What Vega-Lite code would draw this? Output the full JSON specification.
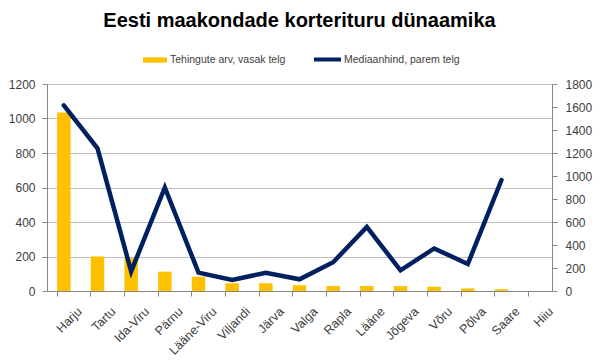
{
  "$schema": "https://vega.github.io/schema/vega-lite/v6.json",
  "width": 505,
  "height": 207,
  "autosize": {"type": "none"},
  "padding": {"left": 47, "top": 84, "right": 48, "bottom": 69},
  "background": "white",
  "title": {
    "text": "Eesti maakondade korterituru dünaamika",
    "font": "Liberation Sans",
    "fontSize": 20,
    "fontWeight": "bold",
    "color": "#000000",
    "anchor": "middle",
    "frame": "group",
    "offset": 13
  },
  "data": {
    "values": [
      {"maakond": "Harju", "tehingud": 1035, "hind": 1615},
      {"maakond": "Tartu", "tehingud": 200, "hind": 1241},
      {"maakond": "Ida-Viru", "tehingud": 190, "hind": 170},
      {"maakond": "Pärnu", "tehingud": 112, "hind": 900},
      {"maakond": "Lääne-Viru", "tehingud": 83, "hind": 160},
      {"maakond": "Viljandi", "tehingud": 45, "hind": 96},
      {"maakond": "Järva", "tehingud": 45, "hind": 159},
      {"maakond": "Valga", "tehingud": 33, "hind": 102},
      {"maakond": "Rapla", "tehingud": 29, "hind": 250},
      {"maakond": "Lääne", "tehingud": 29, "hind": 557},
      {"maakond": "Jõgeva", "tehingud": 28, "hind": 180},
      {"maakond": "Võru", "tehingud": 25, "hind": 370},
      {"maakond": "Põlva", "tehingud": 15, "hind": 235},
      {"maakond": "Saare", "tehingud": 10, "hind": 965},
      {"maakond": "Hiiu", "tehingud": 0, "hind": null}
    ]
  },
  "encoding": {
    "x": {
      "field": "maakond",
      "type": "nominal",
      "sort": null,
      "scale": {"paddingInner": 0.6, "paddingOuter": 0.3},
      "axis": {
        "title": null,
        "bandPosition": 0,
        "labelOffset": 16,
        "labelAngle": -45,
        "labelAlign": "right",
        "labelBaseline": "middle",
        "labelPadding": 13,
        "labelFont": "Liberation Sans",
        "labelFontSize": 12.5,
        "labelColor": "#404040",
        "domainColor": "#868686",
        "tickColor": "#868686",
        "tickSize": 5,
        "grid": false
      }
    }
  },
  "layer": [
    {
      "mark": {"type": "bar", "color": "#FFC000"},
      "encoding": {
        "y": {
          "field": "tehingud",
          "type": "quantitative",
          "scale": {"domain": [0, 1200], "nice": false},
          "axis": {
            "title": null,
            "orient": "left",
            "format": "d",
            "values": [0, 200, 400, 600, 800, 1000, 1200],
            "grid": true,
            "gridColor": "#bfbfbf",
            "domainColor": "#868686",
            "tickColor": "#868686",
            "tickSize": 5,
            "labelPadding": 7,
            "labelFont": "Liberation Sans",
            "labelFontSize": 12,
            "labelColor": "#404040"
          }
        },
        "fill": {
          "datum": "Tehingute arv, vasak telg",
          "scale": {"range": ["#FFC000"]},
          "legend": {
            "title": null,
            "orient": "none",
            "legendX": 95,
            "legendY": -37,
            "symbolType": "M-1,-0.22H1V0.22H-1Z",
            "symbolSize": 576,
            "symbolOpacity": 1,
            "labelOffset": 2,
            "labelFont": "Liberation Sans",
            "labelFontSize": 10.5,
            "labelColor": "#404040"
          }
        }
      }
    },
    {
      "mark": {"type": "line", "strokeWidth": 4.5, "strokeCap": "round"},
      "encoding": {
        "y": {
          "field": "hind",
          "type": "quantitative",
          "scale": {"domain": [0, 1800], "nice": false},
          "axis": {
            "title": null,
            "orient": "right",
            "format": "d",
            "values": [0, 200, 400, 600, 800, 1000, 1200, 1400, 1600, 1800],
            "grid": false,
            "domainColor": "#868686",
            "tickColor": "#868686",
            "tickSize": 5,
            "labelPadding": 8,
            "labelFont": "Liberation Sans",
            "labelFontSize": 12,
            "labelColor": "#404040"
          }
        },
        "stroke": {
          "datum": "Mediaanhind, parem telg",
          "scale": {"range": ["#002060"]},
          "legend": {
            "title": null,
            "orient": "none",
            "legendX": 265,
            "legendY": -40,
            "symbolType": "stroke",
            "symbolSize": 729,
            "symbolStrokeWidth": 4,
            "labelOffset": 1,
            "labelFont": "Liberation Sans",
            "labelFontSize": 10.5,
            "labelColor": "#404040"
          }
        }
      }
    }
  ],
  "resolve": {"scale": {"y": "independent"}},
  "config": {
    "view": {"stroke": null}
  }
}
